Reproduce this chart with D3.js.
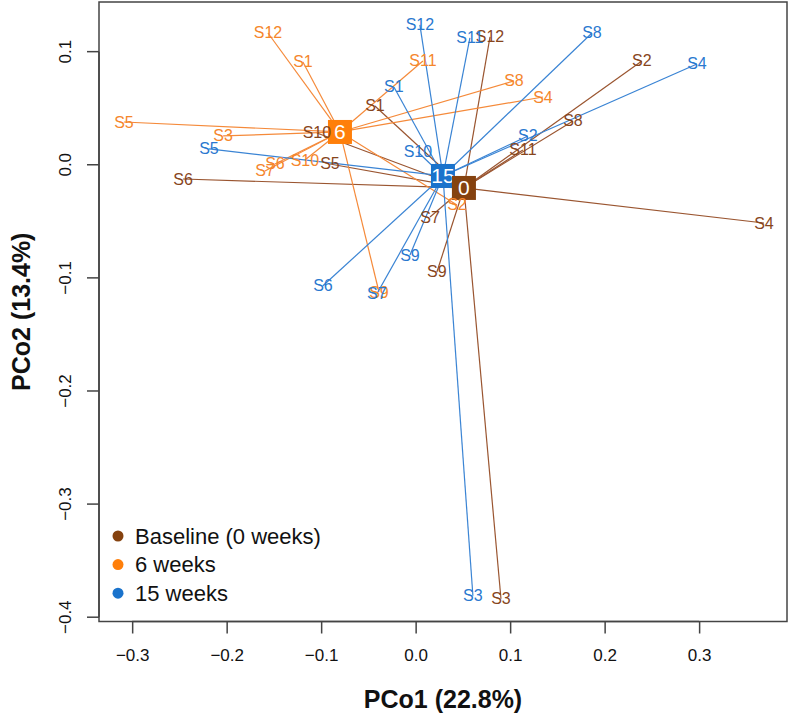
<!DOCTYPE html>
<html><head><meta charset="utf-8">
<script src="https://cdn.jsdelivr.net/npm/d3@7"></script>
<style>body{margin:0;background:#fff}svg{display:block}text{font-family:"Liberation Sans",Arial,sans-serif}</style>
</head><body>
<svg id="chart" width="792" height="721"></svg>
<script>
const sampleNames = ["S1","S2","S3","S4","S5","S6","S7","S8","S9","S10","S11","S12"];
const groups = ["Baseline (0 weeks)","6 weeks","15 weeks"];
const groupTags = ["0","6","15"];
const baselineX = [-0.0431,0.2394,0.0903,0.3686,-0.0907,-0.2462,0.0152,0.1665,0.0225,-0.1045,0.1135,0.0787];
const baselineY = [0.0520,0.0918,-0.3837,-0.0515,0.0007,-0.0126,-0.0462,0.0387,-0.0948,0.0281,0.0131,0.1130];
const week6X = [-0.1193,0.0437,-0.2037,0.1347,-0.3087,-0.1489,-0.1595,0.1040,-0.0388,-0.1172,0.0077,-0.1563];
const week6Y = [0.0909,-0.0355,0.0255,0.0599,0.0378,0.0007,-0.0055,0.0741,-0.1125,0.0042,0.0918,0.1165];
const week15X = [-0.0230,0.1188,0.0606,0.2977,-0.2187,-0.0981,-0.0410,0.1866,-0.0060,0.0024,0.0574,0.0045];
const week15Y = [0.0688,0.0255,-0.3811,0.0891,0.0140,-0.1070,-0.1141,0.1165,-0.0798,0.0113,0.1121,0.1236];
const centroidX = [0.0511,-0.0801,0.0289];
const centroidY = [-0.0205,0.0290,-0.0099];
const xTicks = [-0.3,-0.2,-0.1,0.0,0.1,0.2,0.3];
const yTicks = [0.1,0.0,-0.1,-0.2,-0.3,-0.4];
const xTitle = "PCo1 (22.8%)";
const yTitle = "PCo2 (13.4%)";

const squareColors = ["#85420f","#ff7f0a","#1a73cc"];
const lineColors = ["#9a5530","#f58a3a","#3a84d4"];
const textColors = ["#87451c","#f5862c","#2a78cf"];

const svg = d3.select("#chart");
const L=99, R=787, T=2, B=621.5;
const x = d3.scaleLinear().domain([-0.3351,0.393]).range([L,R]);
const y = d3.scaleLinear().domain([-0.4038,0.1439]).range([B,T]);

const series = [
  {xs:baselineX, ys:baselineY},
  {xs:week6X, ys:week6Y},
  {xs:week15X, ys:week15Y}
];

const plot = svg.append("g");
series.forEach((s,gi)=>{
  plot.append("g").selectAll("line").data(sampleNames).join("line")
    .attr("x1", x(centroidX[gi])).attr("y1", y(centroidY[gi]))
    .attr("x2", (d,i)=>x(s.xs[i])).attr("y2", (d,i)=>y(s.ys[i]))
    .attr("stroke", lineColors[gi]).attr("stroke-width",1.2);
});
[2,1,0].forEach(gi=>{
  const g = plot.append("g");
  g.append("rect").attr("x", x(centroidX[gi])-12).attr("y", y(centroidY[gi])-12)
    .attr("width",24).attr("height",24).attr("fill",squareColors[gi]);
  g.append("text").attr("x", x(centroidX[gi])).attr("y", y(centroidY[gi]))
    .attr("text-anchor","middle").attr("dominant-baseline","central")
    .attr("fill","#fff").attr("font-size",21).text(groupTags[gi]);
});
series.forEach((s,gi)=>{
  plot.append("g").selectAll("text").data(sampleNames).join("text")
    .attr("x",(d,i)=>x(s.xs[i])).attr("y",(d,i)=>y(s.ys[i]))
    .attr("text-anchor","middle").attr("dominant-baseline","central")
    .attr("font-size",16).attr("fill",textColors[gi]).text(d=>d);
});

svg.append("rect").attr("x",L).attr("y",T).attr("width",R-L).attr("height",B-T)
  .attr("fill","none").attr("stroke","#444").attr("stroke-width",1.5);

const xAxis = d3.axisBottom(x).tickValues(xTicks).tickSize(12).tickPadding(0).tickFormat(d3.format(".1f"));
const gx = svg.append("g").attr("transform",`translate(0,${B})`).call(xAxis);
gx.select(".domain").attr("d",`M${x(-0.3)},0H${x(0.3)}`).attr("stroke","#444").attr("stroke-width",1.5);
gx.selectAll(".tick line").attr("stroke","#444").attr("stroke-width",1.5);
gx.selectAll(".tick text").attr("font-size",17).attr("fill","#111")
  .attr("font-family","Liberation Sans, Arial, sans-serif")
  .attr("y",34).attr("dy",null).attr("dominant-baseline","central");

const yAxis = d3.axisLeft(y).tickValues(yTicks).tickSize(12).tickPadding(6).tickFormat(d3.format(".1f"));
const gy = svg.append("g").attr("transform",`translate(${L},0)`).call(yAxis);
gy.select(".domain").attr("d",`M0,${y(0.1)}V${y(-0.4)}`).attr("stroke","#444").attr("stroke-width",1.5);
gy.selectAll(".tick").attr("transform",null);
gy.selectAll(".tick line").attr("stroke","#444").attr("stroke-width",1.5)
  .attr("y1",d=>y(d)).attr("y2",d=>y(d));
gy.selectAll(".tick text").attr("font-size",17).attr("fill","#111")
  .attr("font-family","Liberation Sans, Arial, sans-serif")
  .attr("x",-33).attr("y",d=>y(d)).attr("dy",null).attr("dominant-baseline","central")
  .attr("text-anchor","middle")
  .attr("transform",d=>`rotate(-90,-33,${y(d)})`);

svg.append("text").attr("x",(L+R)/2).attr("y",699).attr("text-anchor","middle")
  .attr("dominant-baseline","central").attr("font-weight","bold").attr("font-size",25).attr("fill","#111").text(xTitle);
svg.append("text").attr("transform",`translate(21,${(T+B)/2}) rotate(-90)`).attr("text-anchor","middle")
  .attr("dominant-baseline","central").attr("font-weight","bold").attr("font-size",25).attr("fill","#111").text(yTitle);

const leg = svg.append("g");
groups.forEach((gname,gi)=>{
  const ly = 536 + gi*28.6;
  leg.append("circle").attr("cx",118).attr("cy",ly).attr("r",5.5).attr("fill",squareColors[gi]);
  leg.append("text").attr("x",135).attr("y",ly).attr("dominant-baseline","central")
    .attr("font-size",22).attr("fill","#111").text(gname);
});
</script>
</body></html>
